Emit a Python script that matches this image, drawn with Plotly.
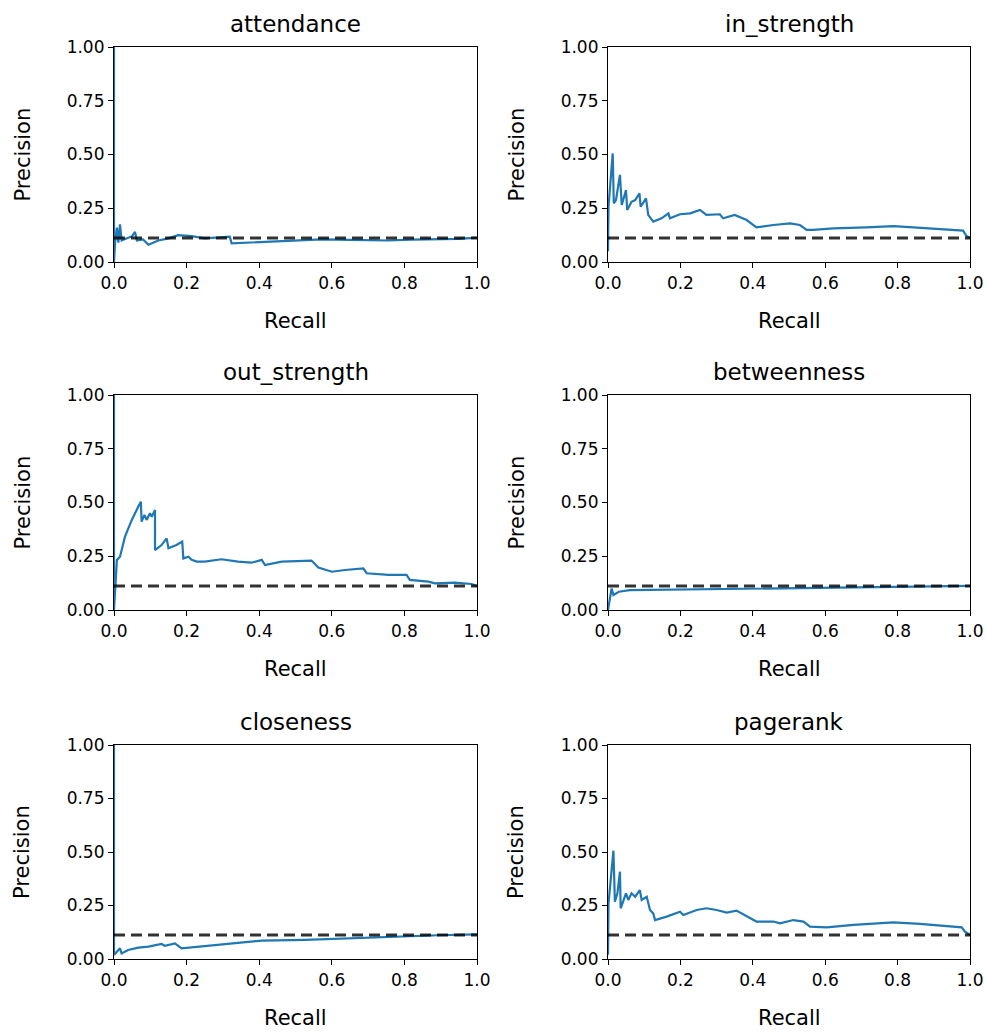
import plotly.graph_objects as go

# ---------------- data ----------------
titles = ["attendance", "in_strength", "out_strength", "betweenness", "closeness", "pagerank"]

baseline_precision = 0.112

attendance_recall = [0.0, 0.0, 0.003, 0.008, 0.012, 0.0165, 0.021, 0.035, 0.05, 0.058, 0.063, 0.08, 0.095,
                     0.122, 0.15, 0.177, 0.214, 0.25, 0.29, 0.319, 0.324, 0.37, 0.434, 0.5, 0.572, 0.65,
                     0.755, 0.82, 0.893, 0.95, 1.0]
attendance_precision = [1.0, 0.0, 0.09, 0.16, 0.09, 0.175, 0.1, 0.11, 0.12, 0.14, 0.1, 0.105, 0.08,
                        0.1, 0.11, 0.125, 0.12, 0.11, 0.115, 0.118, 0.087, 0.09, 0.095, 0.1, 0.105, 0.103,
                        0.1, 0.104, 0.105, 0.108, 0.113]

in_strength_recall = [0.0, 0.0014, 0.013, 0.016, 0.022, 0.033, 0.038, 0.0497, 0.053, 0.065, 0.075, 0.087,
                      0.0902, 0.105, 0.111, 0.125, 0.148, 0.167, 0.171, 0.199, 0.227, 0.254, 0.272, 0.309,
                      0.318, 0.35, 0.383, 0.41, 0.457, 0.503, 0.53, 0.549, 0.567, 0.622, 0.714, 0.788,
                      0.843, 0.898, 0.954, 0.981, 0.99, 1.0]
in_strength_precision = [0.05, 0.257, 0.505, 0.273, 0.288, 0.405, 0.265, 0.335, 0.242, 0.28, 0.288, 0.319,
                         0.257, 0.296, 0.219, 0.188, 0.203, 0.226, 0.203, 0.222, 0.226, 0.242, 0.219, 0.222,
                         0.203, 0.219, 0.195, 0.161, 0.172, 0.18, 0.172, 0.149, 0.149, 0.156, 0.161, 0.167,
                         0.161, 0.156, 0.149, 0.146, 0.121, 0.113]

out_strength_recall = [0.0, 0.0, 0.008, 0.0165, 0.0303, 0.049, 0.067, 0.074, 0.076, 0.084, 0.09, 0.099,
                       0.104, 0.113, 0.113, 0.131, 0.145, 0.15, 0.172, 0.188, 0.191, 0.205, 0.214, 0.228,
                       0.25, 0.296, 0.342, 0.379, 0.407, 0.416, 0.462, 0.544, 0.563, 0.6, 0.636, 0.687,
                       0.696, 0.756, 0.806, 0.815, 0.866, 0.884, 0.939, 0.985, 1.0]
out_strength_precision = [1.0, 0.0, 0.233, 0.248, 0.341, 0.419, 0.481, 0.504, 0.411, 0.442, 0.419, 0.45,
                          0.434, 0.465, 0.279, 0.302, 0.333, 0.287, 0.302, 0.318, 0.24, 0.248, 0.233, 0.225,
                          0.225, 0.236, 0.225, 0.22, 0.233, 0.209, 0.225, 0.23, 0.198, 0.178, 0.186, 0.194,
                          0.171, 0.163, 0.163, 0.14, 0.132, 0.124, 0.127, 0.121, 0.112]

betweenness_recall = [0.0, 0.005, 0.01, 0.015, 0.03, 0.06, 0.2, 0.4, 0.6, 0.8, 1.0]
betweenness_precision = [0.0, 0.06, 0.1, 0.07, 0.085, 0.092, 0.095, 0.1, 0.104, 0.108, 0.112]

closeness_recall = [0.0, 0.0, 0.0165, 0.021, 0.039, 0.067, 0.095, 0.131, 0.14, 0.168, 0.186, 0.25,
                    0.342, 0.407, 0.526, 0.664, 0.801, 0.893, 1.0]
closeness_precision = [1.0, 0.019, 0.05, 0.026, 0.042, 0.053, 0.058, 0.07, 0.062, 0.073, 0.05, 0.061,
                       0.076, 0.086, 0.089, 0.097, 0.108, 0.111, 0.115]

pagerank_recall = [0.0, 0.0014, 0.015, 0.019, 0.026, 0.033, 0.035, 0.042, 0.0497, 0.056, 0.065, 0.075,
                   0.088, 0.093, 0.107, 0.116, 0.125, 0.13, 0.162, 0.199, 0.208, 0.245, 0.272, 0.3,
                   0.328, 0.355, 0.383, 0.41, 0.457, 0.475, 0.512, 0.54, 0.558, 0.604, 0.678, 0.788,
                   0.862, 0.935, 0.977, 0.986, 0.995, 1.0]
pagerank_precision = [0.02, 0.26, 0.506, 0.268, 0.307, 0.408, 0.237, 0.276, 0.307, 0.276, 0.307, 0.291,
                      0.322, 0.276, 0.291, 0.229, 0.213, 0.182, 0.198, 0.221, 0.206, 0.229, 0.237, 0.229,
                      0.217, 0.226, 0.201, 0.175, 0.175, 0.167, 0.182, 0.175, 0.151, 0.148, 0.159, 0.171,
                      0.164, 0.154, 0.148, 0.128, 0.12, 0.113]

recalls = [attendance_recall, in_strength_recall, out_strength_recall,
           betweenness_recall, closeness_recall, pagerank_recall]
precisions = [attendance_precision, in_strength_precision, out_strength_precision,
              betweenness_precision, closeness_precision, pagerank_precision]

x_ticks = [0.0, 0.2, 0.4, 0.6, 0.8, 1.0]
y_ticks = [0.0, 0.25, 0.5, 0.75, 1.0]

# ---------------- layout ----------------
W, H = 987, 1033
col_px = [(114, 477), (608, 970)]
row_px = [(47, 262), (395, 610), (745, 959)]

FONT = "DejaVu Sans"
TICK_SIZE = 17
LABEL_SIZE = 21
TITLE_SIZE = 23

fig = go.Figure()
annotations = []

for i in range(6):
    r, c = divmod(i, 2)
    n = i + 1
    xa = "x" if n == 1 else f"x{n}"
    ya = "y" if n == 1 else f"y{n}"
    xd = [col_px[c][0] / W, col_px[c][1] / W]
    yd = [1 - row_px[r][1] / H, 1 - row_px[r][0] / H]

    fig.add_trace(go.Scatter(x=recalls[i], y=precisions[i], mode="lines",
                             line=dict(color="#1f77b4", width=2.2),
                             xaxis=xa, yaxis=ya, showlegend=False, cliponaxis=False,
                             hoverinfo="skip"))
    fig.add_trace(go.Scatter(x=[0.0, 1.0], y=[baseline_precision, baseline_precision], mode="lines",
                             line=dict(color="rgba(0,0,0,0.8)", width=3, dash="11px,6px"),
                             xaxis=xa, yaxis=ya, showlegend=False, cliponaxis=False,
                             hoverinfo="skip"))

    common = dict(showline=True, mirror=True, linecolor="black", linewidth=1.2,
                  ticks="outside", ticklen=5, tickwidth=1.2, tickcolor="black",
                  showgrid=False, zeroline=False, layer="below traces", automargin=False,
                  tickfont=dict(family=FONT, size=TICK_SIZE, color="black"))
    fig.layout[f"xaxis{'' if n == 1 else n}"] = dict(
        domain=xd, anchor=ya, range=[0, 1], tickvals=x_ticks,
        ticktext=[f"{v:.1f}" for v in x_ticks], **common)
    fig.layout[f"yaxis{'' if n == 1 else n}"] = dict(
        domain=yd, anchor=xa, range=[0, 1], tickvals=y_ticks,
        ticktext=[f"{v:.2f}" for v in y_ticks], **common)

    xmid = (xd[0] + xd[1]) / 2
    ymid = (yd[0] + yd[1]) / 2
    annotations.append(dict(text=titles[i], xref="paper", yref="paper",
                            x=xmid, y=yd[1], xanchor="center", yanchor="middle",
                            yshift=23, showarrow=False,
                            font=dict(family=FONT, size=TITLE_SIZE, color="black")))
    annotations.append(dict(text="Recall", xref="paper", yref="paper",
                            x=xmid, y=yd[0], xanchor="center", yanchor="middle",
                            yshift=-59, showarrow=False,
                            font=dict(family=FONT, size=LABEL_SIZE, color="black")))
    annotations.append(dict(text="Precision", xref="paper", yref="paper", textangle=-90,
                            x=xd[0], y=ymid, xanchor="center", yanchor="middle",
                            xshift=-92, showarrow=False,
                            font=dict(family=FONT, size=LABEL_SIZE, color="black")))

fig.update_layout(width=W, height=H, margin=dict(l=0, r=0, t=0, b=0),
                  paper_bgcolor="white", plot_bgcolor="white", annotations=annotations)

fig.write_html("out.html")
